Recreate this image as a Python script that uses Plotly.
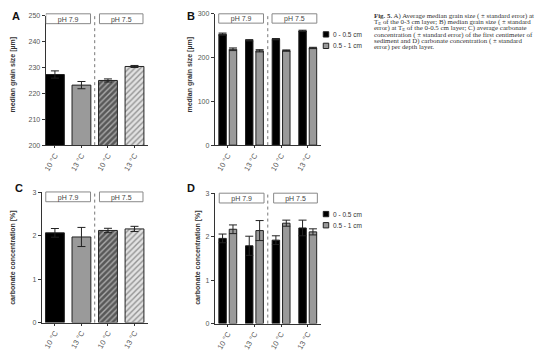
import plotly.graph_objects as go

# ---------------- data ----------------
temp_labels = ["10 °C", "13 °C", "10 °C", "13 °C"]
ph_labels = ["pH 7.9", "pH 7.5"]

# A: average median grain size (0-3 cm), µm
grain_avg = [227.3, 223.2, 225.0, 230.4]
grain_avg_err = [1.4, 1.4, 0.6, 0.4]

# B: median grain size per depth layer, µm
depth_labels = ["0 - 0.5 cm", "0.5 - 1 cm"]
grain_top = [253.5, 239.5, 242.0, 261.0]
grain_top_err = [2.5, 1.5, 1.5, 1.5]
grain_bot = [219.0, 215.5, 216.0, 222.0]
grain_bot_err = [3.0, 2.5, 1.5, 1.5]

# C: average carbonate concentration (first cm), %
carb_avg = [2.065, 1.97, 2.12, 2.155]
carb_avg_err = [0.10, 0.22, 0.05, 0.06]

# D: carbonate concentration per depth layer, %
carb_top = [1.96, 1.79, 1.92, 2.20]
carb_top_err = [0.10, 0.22, 0.10, 0.18]
carb_bot = [2.17, 2.14, 2.31, 2.11]
carb_bot_err = [0.10, 0.23, 0.07, 0.07]

caption_lines = [
    "<b>Fig. 5.</b> A) Average median grain size ( ± standard error) at",
    "T<sub>E</sub> of the 0-3 cm layer; B) median grain size ( ± standard",
    "error) at T<sub>E</sub> of the 0-0.5 cm layer; C) average carbonate",
    "concentration ( ± standard error) of the first centimeter of",
    "sediment and D) carbonate concentration ( ± standard",
    "error) per depth layer.",
]

# ---------------- styling ----------------
W, H = 554, 355
FONT = "Liberation Sans, Arial, sans-serif"
AX = "#333333"
TICKC = "#555555"
xpos = list(range(len(temp_labels)))


def px(x):
    return x / W


def py(y):
    return 1 - y / H


fig = go.Figure()

single_colors = ["#000000", "#9a9a9a", "#585858", "#e2e2e2"]
single_shapes = ["", "", "/", "/"]
single_fg = ["#000000", "#9a9a9a", "#111111", "#8a8a8a"]

err_style = dict(type="data", color="#222222", thickness=1, width=4)


def single_bars(vals, errs, ax):
    fig.add_trace(go.Bar(
        x=xpos, y=vals, width=0.71,
        marker=dict(color=single_colors, line=dict(color="#222222", width=1),
                    pattern=dict(shape=single_shapes, fgcolor=single_fg,
                                 fillmode="overlay", size=4, solidity=0.35)),
        error_y=dict(array=errs, **err_style),
        xaxis="x" + ax, yaxis="y" + ax, showlegend=False,
    ))


def paired_bars(top, top_err, bot, bot_err, ax):
    fig.add_trace(go.Bar(
        x=xpos, y=top, width=0.28, offset=-0.335,
        marker=dict(color="#000000", line=dict(color="#222222", width=1)),
        error_y=dict(array=top_err, **err_style),
        xaxis="x" + ax, yaxis="y" + ax, showlegend=False, name=depth_labels[0],
    ))
    fig.add_trace(go.Bar(
        x=xpos, y=bot, width=0.28, offset=0.055,
        marker=dict(color="#9a9a9a", line=dict(color="#222222", width=1)),
        error_y=dict(array=bot_err, **err_style),
        xaxis="x" + ax, yaxis="y" + ax, showlegend=False, name=depth_labels[1],
    ))


single_bars(grain_avg, grain_avg_err, "")
paired_bars(grain_top, grain_top_err, grain_bot, grain_bot_err, "2")
single_bars(carb_avg, carb_avg_err, "3")
paired_bars(carb_top, carb_top_err, carb_bot, carb_bot_err, "4")

xcommon = dict(tickmode="array", tickvals=xpos, ticktext=temp_labels,
               tickangle=-60, ticks="outside", ticklen=2, tickcolor=AX,
               showline=True, linecolor=AX, linewidth=1.2, showgrid=False,
               zeroline=False, tickfont=dict(size=7.5, color=TICKC, family=FONT))
ycommon = dict(ticks="outside", ticklen=3, tickcolor=AX, showline=True,
               linecolor=AX, linewidth=1.2, showgrid=False, zeroline=False,
               tickfont=dict(size=7, color=TICKC, family=FONT))

fig.update_layout(
    width=W, height=H, margin=dict(l=0, r=0, t=0, b=0),
    paper_bgcolor="white", plot_bgcolor="white",
    font=dict(family=FONT, size=7, color="#333333"),
    barmode="overlay",
    xaxis=dict(domain=[px(43), px(146)], range=[-0.345, 3.517], anchor="y", **xcommon),
    yaxis=dict(domain=[py(144), py(12)], range=[200, 250], dtick=10, anchor="x", **ycommon),
    xaxis2=dict(domain=[px(213), px(320)], range=[-0.485, 3.507], anchor="y2", **xcommon),
    yaxis2=dict(domain=[py(144), py(10)], range=[0, 300], dtick=100, anchor="x2", **ycommon),
    xaxis3=dict(domain=[px(39), px(146)], range=[-0.495, 3.517], anchor="y3", **xcommon),
    yaxis3=dict(domain=[py(325), py(192)], range=[0, 3], dtick=1, anchor="x3", **ycommon),
    xaxis4=dict(domain=[px(213), px(320)], range=[-0.485, 3.507], anchor="y4", **xcommon),
    yaxis4=dict(domain=[py(326), py(193)], range=[0, 3], dtick=1, anchor="x4", **ycommon),
)

shapes = []
annots = []

# pH boxes and dotted separators
box_specs = [
    ("", [(-0.345, 1.342), (1.68, 3.32)], (0.939, 1.015)),
    ("2", [(-0.34, 1.34), (1.66, 3.34)], (0.929, 1.0)),
    ("3", [(-0.345, 1.342), (1.68, 3.32)], (0.927, 1.002)),
    ("4", [(-0.32, 1.36), (1.72, 3.36)], (0.925, 1.0)),
]
for ax, boxes, (yb, yt) in box_specs:
    xr, yr = "x" + ax, "y" + ax + " domain"
    shapes.append(dict(type="line", xref=xr, yref=yr, x0=1.5, x1=1.5, y0=0, y1=yt,
                       line=dict(color="#777777", width=1, dash="dot"), layer="above"))
    for (x0, x1), lab in zip(boxes, ph_labels):
        shapes.append(dict(type="rect", xref=xr, yref=yr, x0=x0, x1=x1, y0=yb, y1=yt,
                           line=dict(color="#888888", width=1), fillcolor="white",
                           layer="above",
                           label=dict(text=lab, textposition="middle center",
                                      font=dict(size=7, color="#444444", family=FONT))))

# manual legends for B and D
for ycent in [(31, 42.7), (214.3, 225.7)]:
    for yc, col, lab in zip(ycent, ["#000000", "#9a9a9a"], depth_labels):
        shapes.append(dict(type="rect", xref="paper", yref="paper",
                           x0=px(322), x1=px(327.5), y0=py(yc + 2.7), y1=py(yc - 2.7),
                           line=dict(color="#222222", width=1), fillcolor=col))
        annots.append(dict(xref="paper", yref="paper", x=px(329.5), y=py(yc),
                           xanchor="left", yanchor="middle", text=lab, showarrow=False,
                           font=dict(size=6.5, color="#333333", family=FONT)))

# panel letters
for lab, x, y in [("A", 13.5, 12), ("B", 189, 12), ("C", 16.5, 188), ("D", 189, 188)]:
    annots.append(dict(xref="paper", yref="paper", x=px(x), y=py(y), text="<b>%s</b>" % lab,
                       showarrow=False, xanchor="center", yanchor="middle",
                       font=dict(size=11, color="#111111", family=FONT)))

# axis titles
for lab, x, y in [("median grain size [µm]", 10, 72), ("median grain size [µm]", 188, 72),
                  ("carbonate concentration [%]", 10, 258),
                  ("carbonate concentration [%]", 196, 258)]:
    annots.append(dict(xref="paper", yref="paper", x=px(x), y=py(y), text="<b>%s</b>" % lab,
                       textangle=-90, showarrow=False, xanchor="center", yanchor="middle",
                       font=dict(size=7, color="#333333", family=FONT)))

# caption
for i, line in enumerate(caption_lines):
    annots.append(dict(xref="paper", yref="paper", x=px(371), y=py(11.8 + 6.5 * i),
                       xanchor="left", yanchor="middle", text=line, showarrow=False,
                       font=dict(size=6.9, color="#333333",
                                 family="Liberation Serif, Times New Roman, serif")))

fig.update_layout(shapes=shapes, annotations=annots)
fig.write_html("out.html", config={"displayModeBar": False},
               post_script="document.body.style.margin='0';document.body.style.padding='0';")
